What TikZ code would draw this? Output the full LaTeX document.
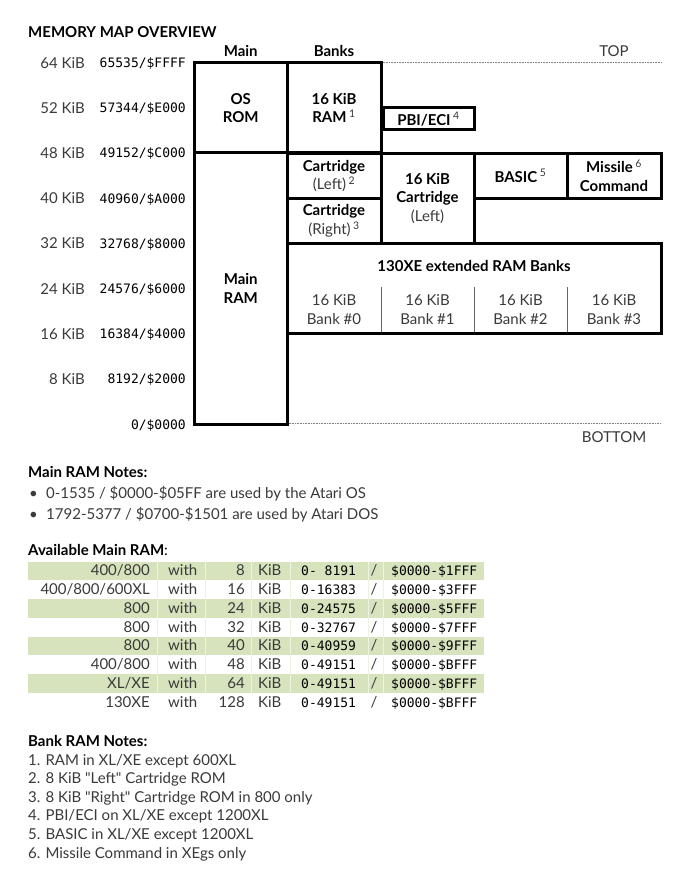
\documentclass[tikz,border=0pt]{standalone}
\usepackage{fontspec}
\setmainfont{Lato}
\setmonofont{DejaVu Sans Mono}
\definecolor{txtgray}{HTML}{3A3A3A}
\definecolor{rowgreen}{HTML}{D7E3BC}
\newcommand{\bodyfont}{\fontsize{15}{18.5}\selectfont}
\newcommand{\addrfont}{\fontsize{13}{16}\selectfont\ttfamily}
\newcommand{\fnmark}[1]{\,\textsuperscript{\normalfont\color{txtgray}#1}}
\newcommand{\ramrow}[5]{%
  \pgfmathsetmacro{\rowbase}{575.8+18.75*#1}
  \node[tcell, anchor=base east] (model#1) at (150,\rowbase) {#2};
  \node[tcell, anchor=base west] (with#1) at (168,\rowbase) {with};
  \node[tcell, anchor=base east] (num#1) at (245,\rowbase) {#3};
  \node[tcell, anchor=base west] (kib#1) at (258,\rowbase) {KiB};
  \node[addr, anchor=base west] (lo#1) at (301,\rowbase) {#4};
  \node[tcell, anchor=base] (sl#1) at (374,\rowbase) {/};
  \node[addr, anchor=base west] (hi#1) at (391,\rowbase) {#5};
}
\begin{document}
\begin{tikzpicture}[x=1pt,y=-1pt,
  every node/.style={font=\bodyfont, inner sep=0pt},
  memblock/.style={draw=black, line width=3pt, align=center, font=\bodyfont\bfseries, text=black},
  lbl/.style={text=txtgray},
  hdr/.style={font=\bodyfont\bfseries, text=black},
  addr/.style={font=\addrfont, text=black},
  kib/.style={text=txtgray, anchor=base east},
  tcell/.style={text=txtgray},
  guide/.style={draw=gray, line width=0.6pt, densely dotted},
  bankdiv/.style={draw=gray!80!black, line width=0.8pt},
  note/.style={text=txtgray, anchor=base west}]
\useasboundingbox (0,0) rectangle (681,882);
\fill[white] (0,0) rectangle (681,882);

% title and headers
\node[hdr, anchor=base west] (title) at (28,37.5) {MEMORY MAP OVERVIEW};
\node[hdr, anchor=base] (hmain) at (240.75,56.5) {Main};
\node[hdr, anchor=base] (hbanks) at (334,56.5) {Banks};
\node[lbl, anchor=base] (top) at (614,56.5) {TOP};

% address scale
\node[kib] (k64) at (85,68.4) {64 KiB};
\node[kib] (k56) at (85,113.5) {52 KiB};
\node[kib] (k48) at (85,158.6) {48 KiB};
\node[kib] (k40) at (85,203.8) {40 KiB};
\node[kib] (k32) at (85,248.9) {32 KiB};
\node[kib] (k24) at (85,294.0) {24 KiB};
\node[kib] (k16) at (85,339.1) {16 KiB};
\node[kib] (k8) at (85,384.3) {8 KiB};
\node[addr, anchor=base east] (a64) at (186,67.8) {65535/\$FFFF};
\node[addr, anchor=base east] (a56) at (186,112.9) {57344/\$E000};
\node[addr, anchor=base east] (a48) at (186,158.0) {49152/\$C000};
\node[addr, anchor=base east] (a40) at (186,203.2) {40960/\$A000};
\node[addr, anchor=base east] (a32) at (186,248.3) {32768/\$8000};
\node[addr, anchor=base east] (a24) at (186,293.4) {24576/\$6000};
\node[addr, anchor=base east] (a16) at (186,338.5) {16384/\$4000};
\node[addr, anchor=base east] (a8) at (186,383.7) {8192/\$2000};
\node[addr, anchor=base east] (a0) at (186,429.8) {0/\$0000};

% guide lines
\coordinate (topstart) at (382.5,62.2);
\coordinate (topend) at (661,62.2);
\coordinate (botstart) at (288.5,423.5);
\coordinate (botend) at (661,423.5);
\draw[guide] (topstart) -- (topend);
\draw[guide] (botstart) -- (botend);
\node[lbl, anchor=base] (bottom) at (614,442.3) {BOTTOM};

% 130XE dividers
\draw[bankdiv] (381,287) -- (381,333);
\draw[bankdiv] (474,287) -- (474,333);
\draw[bankdiv] (567,287) -- (567,333);

% memory blocks
\node[memblock, minimum width=92.5pt, minimum height=90pt] (osrom) at (240.75,108) {OS\\ROM};
\node[memblock, minimum width=92.5pt, minimum height=271pt] (mainram) at (240.75,288.5) {Main\\RAM};
\node[memblock, minimum width=94pt, minimum height=90pt] (bankram) at (334,108) {16 KiB\\RAM\fnmark{1}};
\node[memblock, minimum width=91pt, minimum height=22pt] (pbi) at (428.5,119) {PBI/ECI\fnmark{4}};
\node[memblock, minimum width=94pt, minimum height=45.25pt] (cartl) at (334,175.9) {Cartridge\\{\normalfont\color{txtgray}(Left)\fnmark{2}}};
\node[memblock, minimum width=94pt, minimum height=45.1pt] (cartr) at (334,220.95) {Cartridge\\{\normalfont\color{txtgray}(Right)\fnmark{3}}};
\node[memblock, minimum width=93pt, minimum height=90.25pt] (cart16) at (427.5,198.4) {16 KiB\\Cartridge\\{\normalfont\color{txtgray}(Left)}};
\node[memblock, minimum width=93pt, minimum height=45.25pt] (basic) at (520.5,175.9) {BASIC\fnmark{5}};
\node[memblock, minimum width=94pt, minimum height=45.25pt] (missile) at (614,175.9) {Missile\fnmark{6}\\Command};
\node[memblock, minimum width=374pt, minimum height=90.25pt] (xe) at (474,288.6) {};
\node[hdr, anchor=base] (xetitle) at (474,272) {130XE extended RAM Banks};
\node[lbl, align=center] (bank0) at (334,309.5) {16 KiB\\Bank \#0};
\node[lbl, align=center] (bank1) at (427.5,309.5) {16 KiB\\Bank \#1};
\node[lbl, align=center] (bank2) at (520.5,309.5) {16 KiB\\Bank \#2};
\node[lbl, align=center] (bank3) at (614,309.5) {16 KiB\\Bank \#3};

% main RAM notes
\node[hdr, anchor=base west] (mrnotes) at (28,477.5) {Main RAM Notes:};
\node[lbl, anchor=base] (bul1) at (33.5,498.5) {\textbullet};
\node[note] (mr1) at (46,498.5) {0-1535 / \$0000-\$05FF are used by the Atari OS};
\node[lbl, anchor=base] (bul2) at (33.5,519) {\textbullet};
\node[note] (mr2) at (46,519) {1792-5377 / \$0700-\$1501 are used by Atari DOS};

% available main RAM table
\node[hdr, anchor=base west] (avail) at (28,555.5) {Available Main RAM{\normalfont:}};
\foreach \i in {0,2,4,6}
  \fill[rowgreen] (28,{561.5+18.75*\i}) rectangle (484,{580.25+18.75*\i});
\foreach \xx in {157,205,251,290,368,383}
  \draw[white!55!rowgreen, line width=0.5pt] (\xx,561.5) -- (\xx,692.75);
\ramrow{0}{400/800}{8}{0-\ 8191}{\$0000-\$1FFF}
\ramrow{1}{400/800/600XL}{16}{0-16383}{\$0000-\$3FFF}
\ramrow{2}{800}{24}{0-24575}{\$0000-\$5FFF}
\ramrow{3}{800}{32}{0-32767}{\$0000-\$7FFF}
\ramrow{4}{800}{40}{0-40959}{\$0000-\$9FFF}
\ramrow{5}{400/800}{48}{0-49151}{\$0000-\$BFFF}
\ramrow{6}{XL/XE}{64}{0-49151}{\$0000-\$BFFF}
\ramrow{7}{130XE}{128}{0-49151}{\$0000-\$BFFF}

% bank RAM notes
\node[hdr, anchor=base west] (bnotes) at (28,746) {Bank RAM Notes:};
\node[note] (bn1) at (28,765) {1. RAM in XL/XE except 600XL};
\node[note] (bn2) at (28,783.6) {2. 8 KiB \textquotedbl Left\textquotedbl{} Cartridge ROM};
\node[note] (bn3) at (28,802.2) {3. 8 KiB \textquotedbl Right\textquotedbl{} Cartridge ROM in 800 only};
\node[note] (bn4) at (28,820.8) {4. PBI/ECI on XL/XE except 1200XL};
\node[note] (bn5) at (28,839.4) {5. BASIC in XL/XE except 1200XL};
\node[note] (bn6) at (28,858) {6. Missile Command in XEgs only};
\end{tikzpicture}
\end{document}
